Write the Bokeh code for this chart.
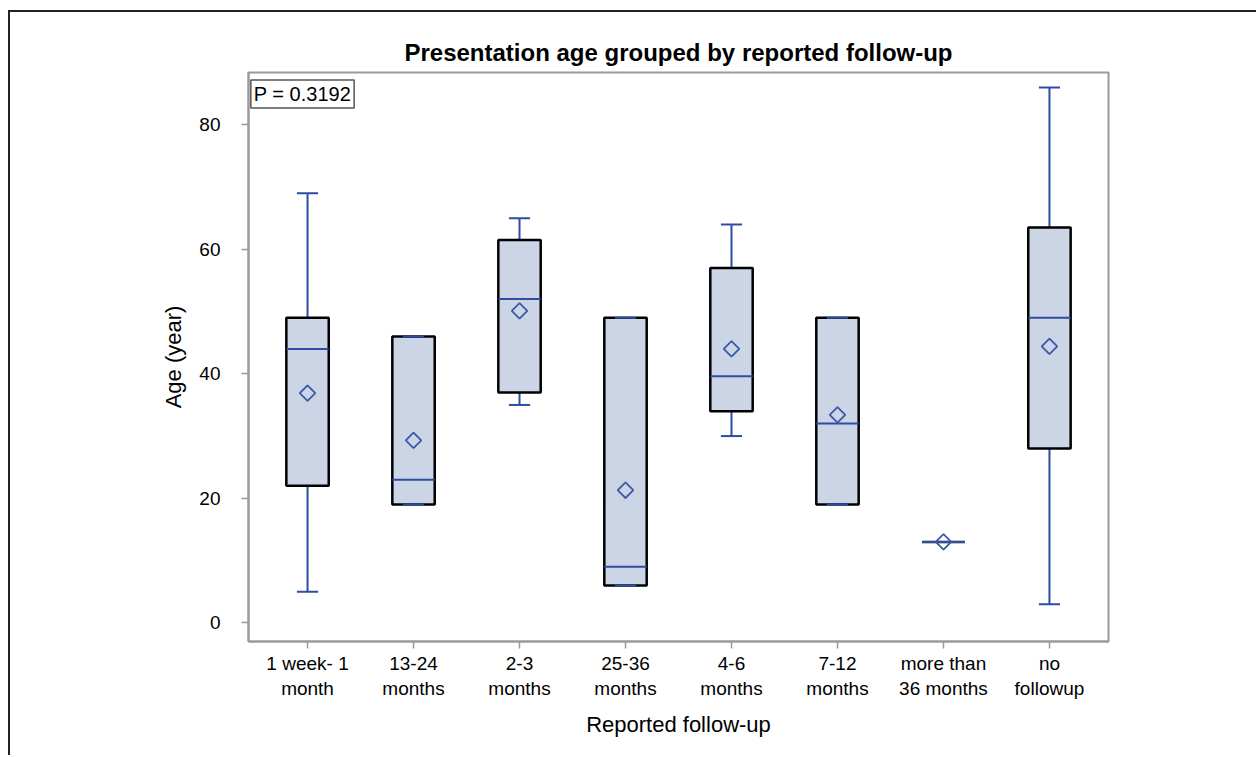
from bokeh.plotting import figure
from bokeh.models import ColumnDataSource, FactorRange, Range1d, Label, FixedTicker
from bokeh.transform import dodge
from bokeh.embed import file_html
from bokeh.resources import INLINE
import numpy as np

# ---- data ----
categories = ["1 week- 1\nmonth", "13-24\nmonths", "2-3\nmonths", "25-36\nmonths",
              "4-6\nmonths", "7-12\nmonths", "more than\n36 months", "no\nfollowup"]
whisker_min = [5, 19, 35, 6, 30, 19, 13, 3]
q1 = [22, 19, 37, 6, 34, 19, 13, 28]
median = [44, 23, 52, 9, 39.6, 32, 13, 49]
q3 = [49, 46, 61.5, 49, 57, 49, 13, 63.5]
whisker_max = [69, 46, 65, 49, 64, 49, 13, 86]
mean = [36.9, 29.3, 50.1, 21.3, 44.0, 33.4, 13, 44.4]
y_ticks = [0, 20, 40, 60, 80]
p_value_text = "P = 0.3192"

FONT = "Liberation Sans"
BLUE = "#2D4DA5"
FILL = "#CBD5E6"
GRAY = "#9A9A9A"

src = ColumnDataSource(dict(cat=categories, lo=whisker_min, q1=q1, med=median,
                            q3=q3, hi=whisker_max, mean=mean))

p = figure(width=1248, height=745, output_backend="svg", toolbar_location=None,
           x_range=FactorRange(factors=categories, range_padding=0.057,
                               range_padding_units="absolute"),
           y_range=Range1d(-3.0, 88.4),
           min_border_left=238, min_border_right=150, min_border_top=60,
           min_border_bottom=116)
p.margin = (10, 0, 0, 8)
p.styles = {"border-top": "2px solid #222222", "border-left": "2px solid #222222"}

p.title.text = "Presentation age grouped by reported follow-up"
p.title.align = "center"
p.title.text_font = FONT
p.title.text_font_size = "24px"
p.title.text_font_style = "bold"
p.title.text_color = "black"
p.title.standoff = 13

p.outline_line_color = GRAY
p.outline_line_width = 2
p.grid.visible = False
p.background_fill_color = "white"
p.border_fill_color = "white"

# whiskers
p.segment(x0="cat", x1="cat", y0="q3", y1="hi", source=src, line_color=BLUE, line_width=2)
p.segment(x0="cat", x1="cat", y0="lo", y1="q1", source=src, line_color=BLUE, line_width=2)
# boxes
p.vbar(x="cat", width=0.4, bottom="q1", top="q3", source=src, fill_color=FILL,
       line_color="black", line_width=2.5)
# caps
p.segment(x0=dodge("cat", -0.1, range=p.x_range), x1=dodge("cat", 0.1, range=p.x_range),
          y0="hi", y1="hi", source=src, line_color=BLUE, line_width=2)
p.segment(x0=dodge("cat", -0.1, range=p.x_range), x1=dodge("cat", 0.1, range=p.x_range),
          y0="lo", y1="lo", source=src, line_color=BLUE, line_width=2)
# medians
p.segment(x0=dodge("cat", -0.2, range=p.x_range), x1=dodge("cat", 0.2, range=p.x_range),
          y0="med", y1="med", source=src, line_color=BLUE, line_width=2)
# means
p.scatter(x="cat", y="mean", source=src, marker="square", angle=np.pi / 4, size=11,
          fill_color=None, line_color="#3A5AA6", line_width=1.8)

# axes
p.yaxis.ticker = FixedTicker(ticks=y_ticks)
p.yaxis.minor_tick_line_color = None
for ax in (p.xaxis[0], p.yaxis[0]):
    ax.axis_line_color = GRAY
    ax.axis_line_width = 2
    ax.major_tick_line_color = GRAY
    ax.major_tick_line_width = 1.5
    ax.major_tick_out = 7
    ax.major_tick_in = 0
    ax.major_label_text_font = FONT
    ax.major_label_text_font_size = "19px"
    ax.major_label_text_color = "black"
    ax.axis_label_text_font = FONT
    ax.axis_label_text_font_size = "22px"
    ax.axis_label_text_font_style = "normal"
    ax.axis_label_text_color = "black"
p.yaxis.axis_label = "Age (year)"
p.xaxis.axis_label = "Reported follow-up"
p.yaxis.major_label_standoff = 21
p.xaxis.major_label_standoff = 4
p.yaxis.axis_label_standoff = 10
p.xaxis.axis_label_standoff = 10

lbl = Label(x=-0.035, y=87.2, text=p_value_text, text_font=FONT, text_font_size="20px",
            text_color="black", text_align="left", text_baseline="top",
            border_line_color="#555555", border_line_width=1.5,
            background_fill_color="white", padding=3)
p.add_layout(lbl)

open("out.html", "w").write(file_html(p, INLINE))
